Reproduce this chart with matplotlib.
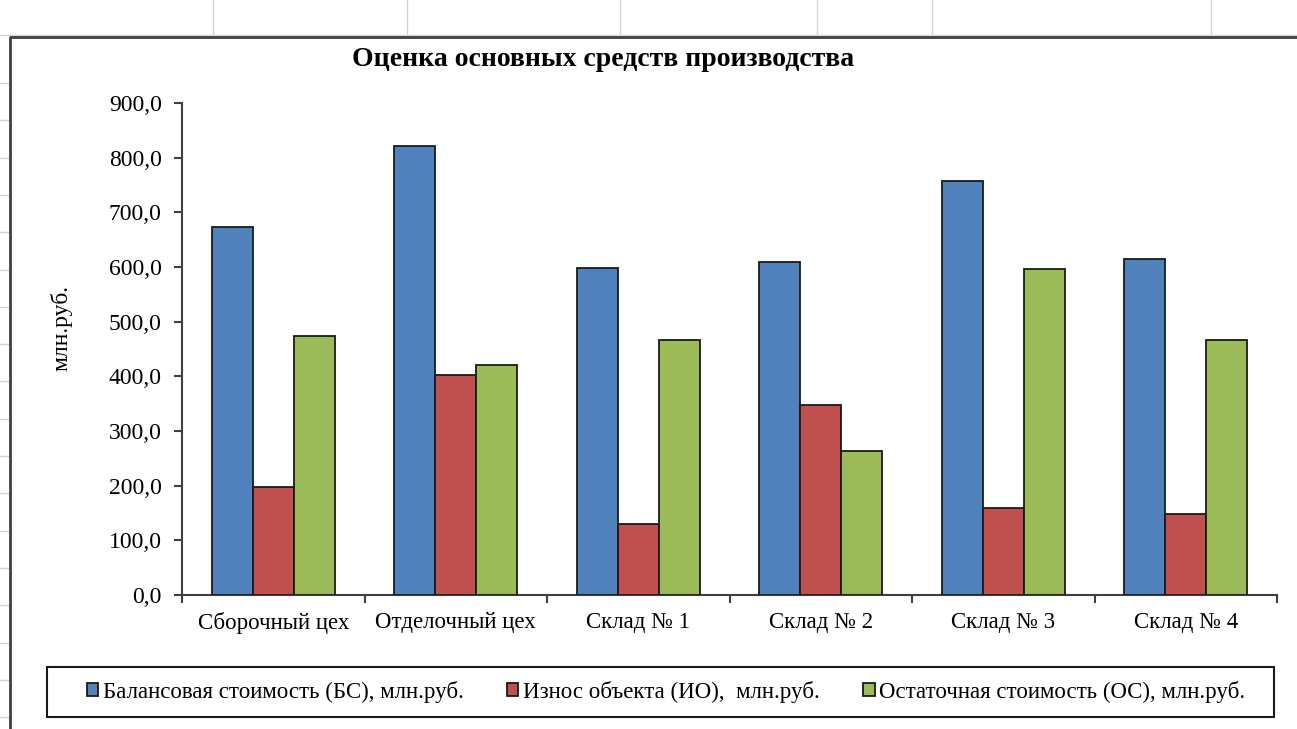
import numpy as np
import matplotlib
matplotlib.use('Agg')
import matplotlib.pyplot as plt
from matplotlib.patches import Rectangle
from matplotlib.lines import Line2D
from matplotlib.ticker import FuncFormatter

plt.rcParams['font.family'] = ['Liberation Serif', 'DejaVu Serif']

categories = ['Сборочный цех', 'Отделочный цех', 'Склад № 1',
              'Склад № 2', 'Склад № 3', 'Склад № 4']
balance_cost = [674, 822, 599, 609, 758, 615]
wear = [198, 402, 130, 348, 160, 149]
residual_cost = [473, 421, 467, 263, 596, 467]

series_names = ['Балансовая стоимость (БС), млн.руб.',
                'Износ объекта (ИО),  млн.руб.',
                'Остаточная стоимость (ОС), млн.руб.']
colors = ['#4F81BD', '#C0504D', '#9BBB59']

W, H = 1297, 729
fig = plt.figure(figsize=(W / 100, H / 100), dpi=100)

# spreadsheet background around the embedded chart
for y in np.arange(83, H, 37.3):
    fig.add_artist(Line2D([0, 9 / W], [1 - y / H, 1 - y / H], color='#d4d4d4', lw=1))
fig.add_artist(Line2D([0, 1], [1 - 35 / H, 1 - 35 / H], color='#d4d4d4', lw=1))
for x in [213, 407, 620, 817, 932, 1211]:
    fig.add_artist(Line2D([x / W, x / W], [1 - 35 / H, 1], color='#d4d4d4', lw=1))
# chart area border
fig.add_artist(Line2D([10 / W, 10 / W, 1], [0, 1 - 37 / H, 1 - 37 / H],
                      color='#404040', lw=2))

ax = fig.add_axes([182 / W, 1 - 595 / H, (1277 - 182) / W, (595 - 103) / H])

x = np.arange(len(categories))
bw = 0.225
for i, (vals, name, c) in enumerate(zip([balance_cost, wear, residual_cost],
                                        series_names, colors)):
    ax.bar(x + (i - 1) * bw, vals, width=bw, color=c, edgecolor='#1a1a1a',
           linewidth=1.3, label=name, zorder=3)

ax.set_xlim(-0.5, len(categories) - 0.5)
ax.set_ylim(0, 900)
ax.set_yticks(np.arange(0, 901, 100))
ax.yaxis.set_major_formatter(FuncFormatter(lambda v, p: f'{v:.1f}'.replace('.', ',')))

ax.set_xticks(np.arange(-0.5, len(categories), 1.0))
ax.set_xticklabels([])
ax.set_xticks(x, minor=True)
ax.set_xticklabels(categories, minor=True)
ax.tick_params(axis='x', which='minor', length=0, pad=12, labelsize=16.5)
ax.tick_params(axis='x', which='major', length=5.5, width=1.5, color='#404040')
ax.tick_params(axis='y', length=5.5, width=1.5, color='#404040', labelsize=17, pad=9)

for s in ['top', 'right']:
    ax.spines[s].set_visible(False)
for s in ['left', 'bottom']:
    ax.spines[s].set_linewidth(1.5)
    ax.spines[s].set_color('#404040')

fig.text(603 / W, 1 - 60 / H, 'Оценка основных средств производства',
         ha='center', va='center', fontsize=20, fontweight='bold')
fig.text(61 / W, 1 - 328 / H, 'млн.руб.', rotation=90, ha='center', va='center',
         fontsize=17)

# legend box
fig.add_artist(Rectangle((47 / W, 1 - 717 / H), (1274 - 47) / W, 50 / H,
                         transform=fig.transFigure, fill=False,
                         edgecolor='#1a1a1a', lw=1.5))
handles, labels = ax.get_legend_handles_labels()
fig.legend(handles, labels, loc='center', bbox_to_anchor=(666 / W, 1 - 692 / H),
           ncol=3, frameon=False, fontsize=16.5, handlelength=0.5, handleheight=0.5,
           handletextpad=0.2, columnspacing=1.9)

fig.savefig('out.png', dpi=100)
